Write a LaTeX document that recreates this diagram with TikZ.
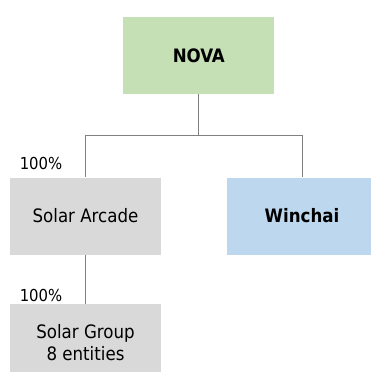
\documentclass[tikz,border=0pt]{standalone}
\usepackage{fontspec}
\setmainfont{DejaVu Sans Condensed}
\usepackage{xcolor}
\definecolor{novagreen}{HTML}{C5E0B4}
\definecolor{boxgrey}{HTML}{D9D9D9}
\definecolor{boxblue}{HTML}{BDD7EE}
\definecolor{linegrey}{HTML}{808080}

\begin{document}
\begin{tikzpicture}[x=1pt,y=-1pt,
        entity/.style={rectangle,minimum width=151pt,minimum height=77pt,inner sep=0pt,align=center,font=\fontsize{18.5}{22}\selectfont},
        pct/.style={inner sep=0pt,font=\fontsize{16.5}{18}\selectfont},
        link/.style={draw=linegrey,line width=1pt}]
        \useasboundingbox (0,0) rectangle (371,372);
        \node [entity,fill=novagreen,font=\fontsize{18.5}{22}\selectfont\bfseries] (nova) at (198.8,55.5) {NOVA};
        \node [entity,fill=boxgrey] (arcade) at (85.5,216) {Solar Arcade};
        \node [entity,fill=boxblue,font=\fontsize{18.5}{22}\selectfont\bfseries] (winchai) at (302,216) {Winchai};
        \node [entity,fill=boxgrey] (group) at (85.5,342.5) {Solar Group\\8 entities};
        \coordinate (fork) at (198.8,135.7);

        \node [pct] (pctarcade) at (41,163) {100\%};
        \node [pct] (pctgroup) at (41,295) {100\%};

        \draw[link] (nova) to (fork);
        \draw[link] (fork) -| (arcade);
        \draw[link] (fork) -| (winchai);
        \draw[link] (arcade) to (group);
        \end{tikzpicture}
\end{document}
